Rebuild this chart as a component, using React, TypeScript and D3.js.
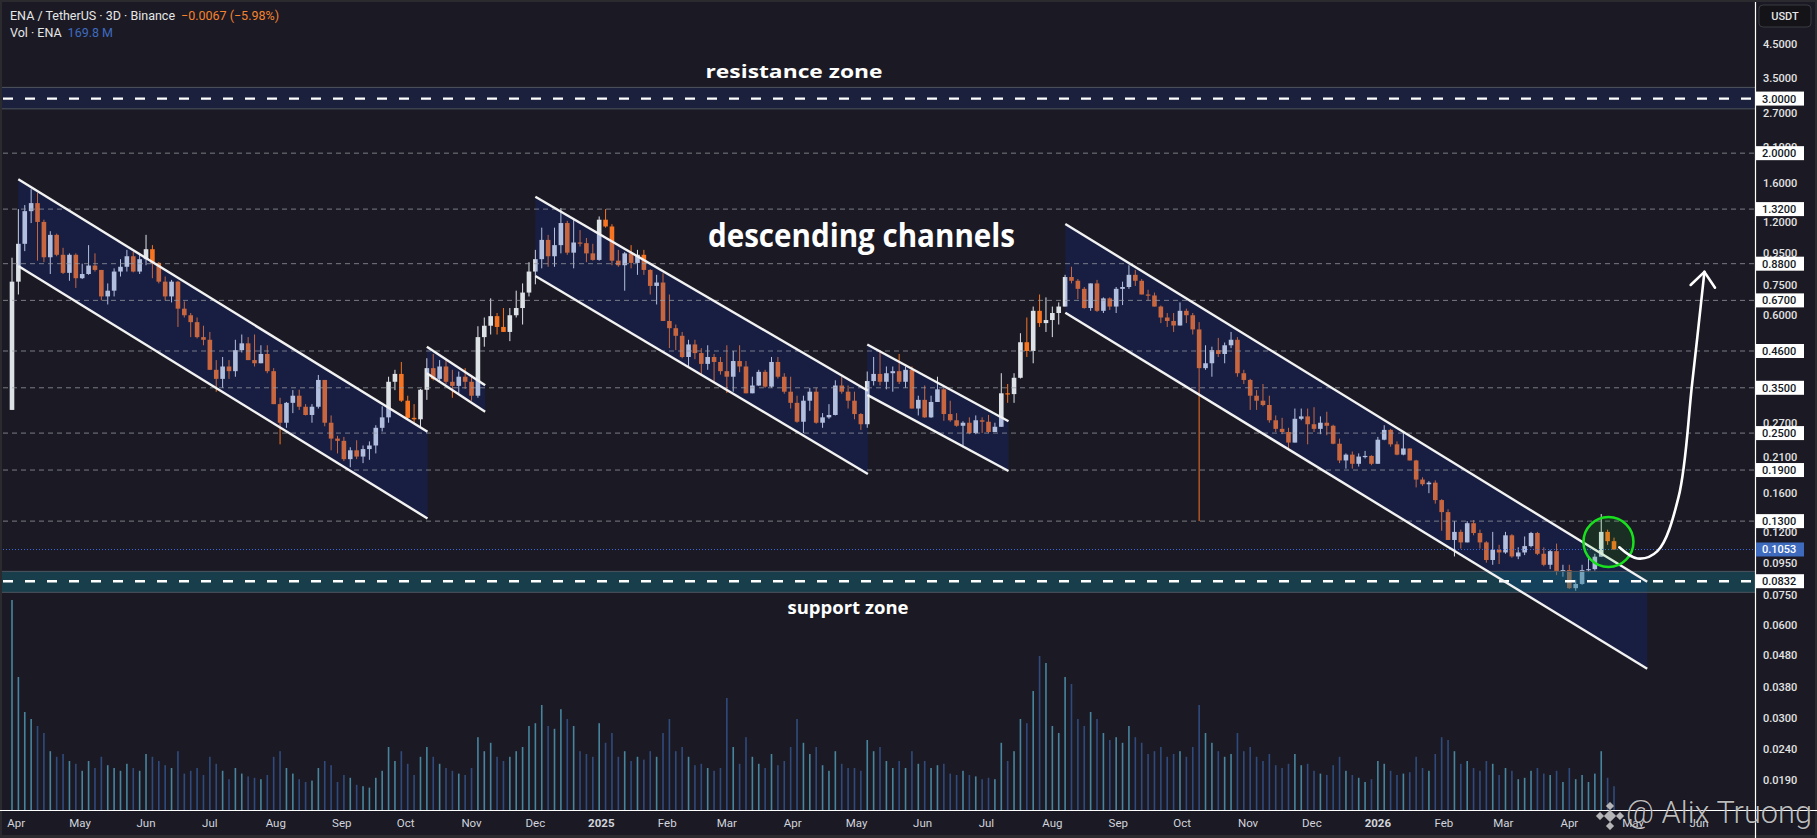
import React from 'react';
import * as d3 from 'd3';

const W = 1817;
const H = 838;
const START_UTC = Date.UTC(2024, 2, 30);
const DAY_MS = 86400000;
const BAR_DAYS = 3;
const FIRST_OPEN = 0.297;

const closes = [
  0.77, 1.02, 1.30, 1.38, 1.20, 0.923, 1.09, 0.94, 0.822, 0.94,
  0.79, 0.815, 0.868, 0.84, 0.69, 0.72, 0.83, 0.86, 0.93, 0.83,
  0.91, 0.98, 0.885, 0.77, 0.69, 0.77, 0.63, 0.60, 0.57, 0.51,
  0.50, 0.40, 0.374, 0.41, 0.396, 0.463, 0.487, 0.43, 0.42, 0.45,
  0.396, 0.31, 0.27, 0.313, 0.33, 0.304, 0.286, 0.304, 0.371, 0.27,
  0.24, 0.236, 0.206, 0.22, 0.21, 0.222, 0.228, 0.26, 0.281, 0.366,
  0.388, 0.318, 0.28, 0.277, 0.345, 0.405, 0.374, 0.41, 0.366, 0.355,
  0.38, 0.366, 0.33, 0.51, 0.555, 0.596, 0.55, 0.53, 0.60, 0.633,
  0.71, 0.83, 0.91, 1.05, 0.93, 1.01, 1.19, 0.955, 1.03, 1.025,
  0.95, 0.905, 1.22, 1.16, 0.90, 0.87, 0.95, 0.885, 0.94, 0.84,
  0.746, 0.765, 0.575, 0.545, 0.515, 0.44, 0.483, 0.453, 0.418, 0.44,
  0.424, 0.396, 0.38, 0.427, 0.41, 0.336, 0.356, 0.394, 0.353, 0.424,
  0.38, 0.34, 0.313, 0.272, 0.318, 0.34, 0.27, 0.281, 0.286, 0.356,
  0.34, 0.318, 0.288, 0.267, 0.368, 0.388, 0.366, 0.39, 0.396, 0.366,
  0.40, 0.30, 0.32, 0.281, 0.315, 0.346, 0.288, 0.275, 0.264, 0.27,
  0.25, 0.275, 0.272, 0.252, 0.262, 0.336, 0.334, 0.377, 0.491, 0.46,
  0.62, 0.566, 0.579, 0.61, 0.64, 0.797, 0.775, 0.73, 0.633, 0.76,
  0.62, 0.68, 0.64, 0.73, 0.74, 0.81, 0.775, 0.70, 0.695, 0.64,
  0.59, 0.575, 0.556, 0.62, 0.60, 0.54, 0.405, 0.42, 0.463, 0.45,
  0.48, 0.50, 0.39, 0.371, 0.33, 0.318, 0.308, 0.275, 0.258, 0.252,
  0.233, 0.278, 0.283, 0.267, 0.258, 0.27, 0.264, 0.231, 0.204, 0.213,
  0.199, 0.21, 0.211, 0.199, 0.238, 0.256, 0.23, 0.213, 0.223, 0.204,
  0.177, 0.171, 0.173, 0.152, 0.139, 0.113, 0.12, 0.111, 0.128, 0.119,
  0.111, 0.0974, 0.105, 0.103, 0.117, 0.10, 0.103, 0.108, 0.119, 0.102,
  0.094, 0.104, 0.0896, 0.0904, 0.079, 0.0815, 0.0904, 0.091, 0.0998, 0.12,
  0.112, 0.1053,
];

const highs = [
  0.92, 1.32, 1.36, 1.53, 1.49, 1.22, 1.12, 1.10, 0.99, 0.95,
  0.95, 0.88, 1.01, 0.95, 0.84, 0.76, 0.85, 0.91, 0.975, 0.96,
  0.94, 1.09, 1.01, 0.89, 0.80, 0.78, 0.775, 0.665, 0.61, 0.59,
  0.555, 0.53, 0.43, 0.44, 0.43, 0.50, 0.52, 0.51, 0.52, 0.48,
  0.48, 0.405, 0.325, 0.315, 0.344, 0.345, 0.31, 0.31, 0.385, 0.371,
  0.285, 0.245, 0.243, 0.225, 0.237, 0.228, 0.235, 0.265, 0.305, 0.38,
  0.40, 0.424, 0.33, 0.31, 0.347, 0.436, 0.45, 0.43, 0.43, 0.40,
  0.395, 0.405, 0.385, 0.553, 0.59, 0.68, 0.61, 0.633, 0.633, 0.72,
  0.76, 0.89, 0.975, 1.15, 1.09, 1.15, 1.33, 1.21, 1.23, 1.13,
  1.065, 1.02, 1.25, 1.32, 1.18, 0.975, 0.96, 1.01, 0.975, 0.975,
  0.845, 0.81, 0.82, 0.70, 0.56, 0.53, 0.50, 0.50, 0.47, 0.48,
  0.45, 0.44, 0.48, 0.46, 0.48, 0.427, 0.38, 0.40, 0.40, 0.44,
  0.44, 0.39, 0.38, 0.33, 0.33, 0.35, 0.35, 0.29, 0.31, 0.37,
  0.38, 0.356, 0.34, 0.29, 0.395, 0.44, 0.463, 0.41, 0.41, 0.45,
  0.41, 0.41, 0.33, 0.356, 0.33, 0.38, 0.35, 0.318, 0.29, 0.273,
  0.281, 0.285, 0.281, 0.286, 0.27, 0.39, 0.36, 0.39, 0.525, 0.59,
  0.64, 0.70, 0.685, 0.64, 0.66, 0.81, 0.86, 0.785, 0.74, 0.76,
  0.78, 0.685, 0.685, 0.74, 0.77, 0.87, 0.84, 0.785, 0.725, 0.71,
  0.645, 0.61, 0.61, 0.66, 0.63, 0.61, 0.57, 0.48, 0.475, 0.507,
  0.49, 0.53, 0.51, 0.40, 0.374, 0.344, 0.36, 0.33, 0.285, 0.28,
  0.26, 0.30, 0.30, 0.30, 0.303, 0.283, 0.293, 0.266, 0.24, 0.215,
  0.218, 0.215, 0.219, 0.212, 0.243, 0.265, 0.258, 0.235, 0.252, 0.223,
  0.205, 0.18, 0.175, 0.176, 0.153, 0.142, 0.13, 0.122, 0.13, 0.131,
  0.122, 0.112, 0.12, 0.109, 0.12, 0.118, 0.107, 0.116, 0.12, 0.12,
  0.107, 0.105, 0.11, 0.094, 0.094, 0.084, 0.094, 0.099, 0.102, 0.137,
  0.122, 0.115,
];

const lows = [
  0.297, 0.70, 0.966, 1.19, 0.90, 0.89, 0.815, 0.93, 0.815, 0.775,
  0.735, 0.785, 0.81, 0.83, 0.67, 0.65, 0.69, 0.80, 0.83, 0.825,
  0.815, 0.87, 0.79, 0.76, 0.67, 0.66, 0.55, 0.59, 0.51, 0.505,
  0.48, 0.40, 0.34, 0.35, 0.374, 0.38, 0.455, 0.43, 0.41, 0.42,
  0.39, 0.31, 0.23, 0.26, 0.29, 0.297, 0.285, 0.27, 0.30, 0.263,
  0.22, 0.215, 0.203, 0.194, 0.206, 0.20, 0.205, 0.215, 0.253, 0.27,
  0.344, 0.315, 0.275, 0.27, 0.26, 0.32, 0.37, 0.365, 0.36, 0.325,
  0.336, 0.347, 0.318, 0.325, 0.475, 0.52, 0.52, 0.53, 0.495, 0.59,
  0.56, 0.69, 0.755, 0.85, 0.86, 0.86, 0.95, 0.94, 0.85, 1.0,
  0.89, 0.90, 0.90, 1.15, 0.87, 0.86, 0.72, 0.85, 0.81, 0.81,
  0.70, 0.65, 0.575, 0.47, 0.463, 0.436, 0.41, 0.433, 0.387, 0.40,
  0.366, 0.386, 0.337, 0.34, 0.393, 0.336, 0.336, 0.355, 0.35, 0.35,
  0.375, 0.335, 0.30, 0.27, 0.25, 0.295, 0.268, 0.26, 0.278, 0.285,
  0.335, 0.30, 0.277, 0.256, 0.26, 0.356, 0.356, 0.346, 0.34, 0.36,
  0.35, 0.30, 0.285, 0.28, 0.28, 0.315, 0.274, 0.272, 0.262, 0.225,
  0.248, 0.248, 0.25, 0.25, 0.252, 0.262, 0.313, 0.313, 0.375, 0.44,
  0.42, 0.55, 0.53, 0.51, 0.56, 0.64, 0.76, 0.676, 0.63, 0.62,
  0.615, 0.61, 0.624, 0.61, 0.647, 0.73, 0.746, 0.70, 0.67, 0.64,
  0.566, 0.55, 0.53, 0.556, 0.566, 0.52, 0.13, 0.40, 0.38, 0.44,
  0.42, 0.47, 0.38, 0.36, 0.297, 0.297, 0.305, 0.27, 0.252, 0.248,
  0.22, 0.233, 0.275, 0.23, 0.252, 0.248, 0.246, 0.23, 0.20, 0.192,
  0.192, 0.195, 0.207, 0.197, 0.199, 0.237, 0.226, 0.212, 0.212, 0.204,
  0.167, 0.169, 0.16, 0.148, 0.121, 0.113, 0.10, 0.106, 0.111, 0.117,
  0.106, 0.0955, 0.094, 0.0945, 0.102, 0.099, 0.098, 0.101, 0.107, 0.101,
  0.093, 0.091, 0.087, 0.086, 0.0785, 0.0775, 0.081, 0.089, 0.09, 0.0998,
  0.109, 0.105,
];

const volumesM = [
  1500, 950, 700, 650, 600, 550, 420, 380, 400, 350,
  330, 280, 350, 300, 380, 320, 300, 280, 330, 300,
  280, 400, 380, 350, 320, 300, 420, 260, 280, 300,
  250, 380, 330, 280, 220, 300, 260, 240, 230, 220,
  250, 380, 420, 300, 260, 220, 200, 210, 300, 350,
  320, 200, 250, 230, 180, 170, 160, 230, 280, 450,
  350, 420, 330, 250, 380, 450, 380, 330, 300, 280,
  260, 250, 300, 520, 420, 480, 380, 350, 380, 420,
  450, 600, 620, 750, 600, 580, 720, 650, 600, 420,
  400, 380, 620, 480, 550, 380, 420, 350, 380, 360,
  420, 380, 550, 650, 420, 450, 380, 320, 330, 300,
  280, 300, 800, 450, 330, 520, 380, 330, 300, 400,
  320, 350, 450, 650, 480, 400, 450, 320, 280, 420,
  330, 300, 300, 280, 500, 420, 450, 350, 300, 350,
  300, 420, 330, 350, 300, 320, 330, 260, 250, 280,
  250, 240, 220, 230, 220, 480, 350, 420, 650, 620,
  850, 1100, 1050, 600, 550, 950, 900, 650, 600, 700,
  650, 550, 500, 520, 480, 600, 520, 480, 400, 420,
  450, 380, 400, 420, 380, 450, 750, 550, 480, 420,
  380, 400, 550, 420, 450, 380, 350, 400, 320, 300,
  330, 400, 320, 330, 280, 260, 250, 320, 380, 280,
  250, 230, 200, 220, 350, 330, 280, 250, 260, 270,
  380, 300, 280, 400, 520, 500, 420, 330, 350, 300,
  280, 350, 330, 250, 300, 280, 220, 230, 280, 300,
  260, 250, 280, 200, 300, 220, 250, 200, 260, 420,
  230, 170,
];

const levelLines = [2.0, 1.32, 0.88, 0.67, 0.46, 0.35, 0.25, 0.19, 0.13];
const priceTicks = [4.5, 3.5, 2.7, 2.1, 1.6, 1.2, 0.95, 0.75, 0.6, 0.27, 0.21, 0.16, 0.12, 0.095, 0.075, 0.06, 0.048, 0.038, 0.03, 0.024, 0.019];
const resistanceZone = [2.78, 3.26];
const resistanceLevel = 3.0;
const supportZone = [0.0766, 0.0895];
const supportLevel = 0.0832;
const lastPrice = 0.1053;

const timeTickLabels = ['Apr', 'May', 'Jun', 'Jul', 'Aug', 'Sep', 'Oct', 'Nov', 'Dec', '2025', 'Feb', 'Mar', 'Apr', 'May', 'Jun', 'Jul', 'Aug', 'Sep', 'Oct', 'Nov', 'Dec', '2026', 'Feb', 'Mar', 'Apr', 'May', 'Jun'];
const firstTickMonth = Date.UTC(2024, 3, 1);

// channels: start/end day offsets from START, top & bottom prices at each end
const channelDays = [[2.96, 195.3], [195.0, 222.4], [246, 402.3], [402, 468.4], [495.1, 768.6]];
const channelTop = [[1.647, 0.2525], [0.475, 0.357], [1.447, 0.3424], [0.483, 0.273], [1.182, 0.0828]];
const channelBottom = [[0.865, 0.1326], [0.39, 0.293], [0.803, 0.1845], [0.332, 0.1886], [0.611, 0.0434]];

const arrowDays = [755.5, 764, 773.4, 783.3, 789.8, 795.5];
const arrowPrices = [0.107, 0.0985, 0.104, 0.155, 0.365, 0.828];
const breakoutCircle = { day: 750.4, price: 0.1113 };

const PLOT_RIGHT = 1755;
const AXIS_Y = 810;

const fmt4 = (v: number) => v.toFixed(4);

export default function App() {
  const x = d3.scaleUtc()
    .domain([new Date(START_UTC), new Date(START_UTC + 753 * DAY_MS)])
    .range([12, 1614]);
  const y = d3.scaleLog().domain([0.019, 4.5]).range([780, 44]);
  const vy = d3.scaleLinear().domain([0, 1500]).range([AXIS_Y, AXIS_Y - 210]);
  const dx = (d: number) => x(new Date(START_UTC + d * DAY_MS));

  const candles = closes.map((c, i) => {
    const o = i === 0 ? FIRST_OPEN : closes[i - 1];
    const h = Math.max(highs[i], o, c);
    const l = Math.min(lows[i], o, c);
    const t = new Date(START_UTC + i * BAR_DAYS * DAY_MS);
    return { o, c, h, l, t, v: volumesM[i], up: c >= o };
  });

  const upCol = '#dde2e6';
  const downCol = '#f77420';
  const bodyW = 4.6;

  const channelPolys = channelDays.map((dd, k) => {
    const x0 = dx(dd[0]);
    const x1 = dx(dd[1]);
    return {
      poly: [[x0, y(channelTop[k][0])], [x1, y(channelTop[k][1])], [x1, y(channelBottom[k][1])], [x0, y(channelBottom[k][0])]],
      top: [[x0, y(channelTop[k][0])], [x1, y(channelTop[k][1])]],
      bot: [[x0, y(channelBottom[k][0])], [x1, y(channelBottom[k][1])]],
    };
  });

  const arrowPts: [number, number][] = arrowDays.map((d, i) => [dx(d), y(arrowPrices[i])]);
  const arrowPath = d3.line().curve(d3.curveCatmullRom.alpha(0.5))(arrowPts) || '';
  const tip = arrowPts[arrowPts.length - 1];
  const prev = arrowPts[arrowPts.length - 2];
  const ang = Math.atan2(tip[1] - prev[1], tip[0] - prev[0]);
  const wingLen = 19;
  const wingA = 0.7;
  const w1 = [tip[0] - wingLen * Math.cos(ang - wingA), tip[1] - wingLen * Math.sin(ang - wingA)];
  const w2 = [tip[0] - wingLen * Math.cos(ang + wingA), tip[1] - wingLen * Math.sin(ang + wingA)];

  const monthDates = timeTickLabels.map((_, i) => d3.utcMonth.offset(new Date(firstTickMonth), i));

  const ptsStr = (p: number[][]) => p.map((q) => q.join(',')).join(' ');

  const cx = dx(breakoutCircle.day);
  const cy = y(breakoutCircle.price);

  const logoCx = 1610;
  const logoCy = 816;

  return (
    <svg width={W} height={H} style={{ position: 'absolute', left: 0, top: 0 }} xmlns="http://www.w3.org/2000/svg">
      <rect x={0} y={0} width={W} height={H} fill="#2b2b2f" />
      <rect x={2} y={2} width={W - 4} height={H - 5} fill="#1b1a24" />

      {/* volume */}
      <g>
        {candles.map((d, i) => (
          <rect key={'v' + i} x={x(d.t) - 0.8} y={vy(d.v)} width={1.6} height={AXIS_Y - vy(d.v)}
            fill={d.up ? '#4f98b3' : '#33548c'} opacity={0.85} />
        ))}
      </g>

      {/* candles */}
      <g>
        {candles.map((d, i) => {
          const cxx = x(d.t);
          const col = d.up ? upCol : downCol;
          const yt = y(Math.max(d.o, d.c));
          const yb = y(Math.min(d.o, d.c));
          return (
            <g key={'c' + i}>
              <line x1={cxx} x2={cxx} y1={y(d.h)} y2={y(d.l)} stroke={col} strokeWidth={1} />
              <rect x={cxx - bodyW / 2} y={yt} width={bodyW} height={Math.max(1.2, yb - yt)} fill={col} />
            </g>
          );
        })}
      </g>

      {/* channel fills */}
      {channelPolys.map((c, k) => (
        <polygon key={'cf' + k} points={ptsStr(c.poly)} fill="rgb(10,50,190)" fillOpacity={0.2} />
      ))}

      {/* resistance zone */}
      <rect x={2} y={y(resistanceZone[1])} width={PLOT_RIGHT - 2} height={y(resistanceZone[0]) - y(resistanceZone[1])}
        fill="rgb(30,50,115)" fillOpacity={0.3} />
      <line x1={2} x2={PLOT_RIGHT} y1={y(resistanceZone[1])} y2={y(resistanceZone[1])} stroke="#50545e" strokeWidth={1} />
      <line x1={2} x2={PLOT_RIGHT} y1={y(resistanceZone[0])} y2={y(resistanceZone[0])} stroke="#50545e" strokeWidth={1} />

      {/* support zone */}
      <rect x={2} y={y(supportZone[1])} width={PLOT_RIGHT - 2} height={y(supportZone[0]) - y(supportZone[1])}
        fill="rgb(17,118,133)" fillOpacity={0.4} />
      <line x1={2} x2={PLOT_RIGHT} y1={y(supportZone[1])} y2={y(supportZone[1])} stroke="#4e5560" strokeWidth={1} />
      <line x1={2} x2={PLOT_RIGHT} y1={y(supportZone[0])} y2={y(supportZone[0])} stroke="#4e5560" strokeWidth={1} />

      {/* level dashed lines */}
      {levelLines.map((p, i) => (
        <line key={'l' + i} x1={3} x2={PLOT_RIGHT} y1={y(p)} y2={y(p)} stroke="#9a9ca3" strokeOpacity={0.75}
          strokeWidth={1} strokeDasharray="5 4" />
      ))}

      {/* last price dotted */}
      <line x1={3} x2={PLOT_RIGHT} y1={y(lastPrice)} y2={y(lastPrice)} stroke="#3f6ad8" strokeWidth={1} strokeDasharray="1 2" />

      {/* zone center dashed lines */}
      <line x1={3} x2={PLOT_RIGHT} y1={y(resistanceLevel)} y2={y(resistanceLevel)} stroke="#ffffff" strokeWidth={2.4} strokeDasharray="10 12" />
      <line x1={3} x2={PLOT_RIGHT} y1={y(supportLevel)} y2={y(supportLevel)} stroke="#ffffff" strokeWidth={2.4} strokeDasharray="10 12" />

      {/* channel borders */}
      {channelPolys.map((c, k) => (
        <g key={'cb' + k}>
          <line x1={c.top[0][0]} y1={c.top[0][1]} x2={c.top[1][0]} y2={c.top[1][1]} stroke="#f2f2f2" strokeWidth={2.4} />
          <line x1={c.bot[0][0]} y1={c.bot[0][1]} x2={c.bot[1][0]} y2={c.bot[1][1]} stroke="#f2f2f2" strokeWidth={2.4} />
        </g>
      ))}

      {/* breakout circle */}
      <circle cx={cx} cy={cy} r={25} fill="rgb(30,200,30)" fillOpacity={0.12} stroke="#19e01f" strokeWidth={2.5} />

      {/* arrow */}
      <path d={arrowPath} fill="none" stroke="#ffffff" strokeWidth={2.6} strokeLinecap="round" />
      <polyline points={ptsStr([w1, tip, w2])} fill="none" stroke="#ffffff" strokeWidth={2.6} strokeLinecap="round" strokeLinejoin="round" />

      {/* annotations */}
      <text x={794} y={78} fill="#ffffff" fontFamily="'Open Sans', sans-serif" fontWeight={700} fontSize={17}
        textAnchor="middle" textLength={177} lengthAdjust="spacingAndGlyphs">resistance zone</text>
      <text x={848} y={614} fill="#ffffff" fontFamily="'Open Sans', sans-serif" fontWeight={700} fontSize={17}
        textAnchor="middle" textLength={121} lengthAdjust="spacingAndGlyphs">support zone</text>
      <text x={708} y={247} fill="#ffffff" fontFamily="'Open Sans', sans-serif" fontWeight={700} fontSize={32}
        textLength={307} lengthAdjust="spacingAndGlyphs">descending channels</text>

      {/* axes lines */}
      <line x1={0} x2={W} y1={AXIS_Y + 0.5} y2={AXIS_Y + 0.5} stroke="#ffffff" strokeWidth={1.2} />
      <line x1={PLOT_RIGHT + 0.5} x2={PLOT_RIGHT + 0.5} y1={2} y2={H} stroke="#ffffff" strokeWidth={1.2} />

      {/* time labels */}
      {timeTickLabels.map((lab, i) => (
        <text key={'t' + i} x={x(monthDates[i])} y={827} fill="#d1d4dc" fontFamily="Roboto, sans-serif"
          fontSize={11.5} fontWeight={lab.length === 4 ? 700 : 400} textAnchor="middle">{lab}</text>
      ))}

      {/* price ticks */}
      {priceTicks.map((p, i) => (
        <text key={'p' + i} x={1763} y={y(p)} dy="0.36em" fill="#e3e3e3" fontFamily="Roboto, sans-serif"
          fontSize={11} fontWeight={500}>{fmt4(p)}</text>
      ))}

      {/* level boxes */}
      {[resistanceLevel, ...levelLines, supportLevel].map((p, i) => (
        <g key={'b' + i}>
          <rect x={PLOT_RIGHT + 1} y={y(p) - 7} width={48} height={14} fill="#ffffff" />
          <text x={1762} y={y(p)} dy="0.36em" fill="#131722" fontFamily="Roboto, sans-serif" fontSize={11} fontWeight={500}>{fmt4(p)}</text>
        </g>
      ))}
      <rect x={PLOT_RIGHT + 1} y={y(lastPrice) - 7} width={48} height={14} fill="#3f6bbf" />
      <text x={1762} y={y(lastPrice)} dy="0.36em" fill="#ffffff" fontFamily="Roboto, sans-serif" fontSize={11} fontWeight={500}>{fmt4(lastPrice)}</text>

      {/* USDT button */}
      <rect x={1759} y={5} width={52} height={22} rx={4} fill="#131318" stroke="#3a3a42" strokeWidth={1} />
      <text x={1785} y={16} dy="0.36em" fill="#e6e6e6" fontFamily="Roboto, sans-serif" fontSize={11} fontWeight={500} textAnchor="middle">USDT</text>

      {/* header */}
      <text x={10} y={19.5} fill="#e6e6e6" fontFamily="Roboto, sans-serif" fontSize={12.5}>
        ENA / TetherUS · 3D · Binance
        <tspan fill="#f5822e" dx={6}>−0.0067 (−5.98%)</tspan>
      </text>
      <text x={10} y={37} fill="#e6e6e6" fontFamily="Roboto, sans-serif" fontSize={12.5}>
        Vol · ENA
        <tspan fill="#3e6bc0" dx={6}>169.8 M</tspan>
      </text>

      {/* watermark */}
      <g opacity={0.85} fill="#d0d0d0" stroke="#000" strokeOpacity={0.3} strokeWidth={0.6}>
        <rect x={logoCx - 4.5} y={logoCy - 4.5} width={9} height={9} transform={`rotate(45 ${logoCx} ${logoCy})`} />
        <rect x={logoCx - 3} y={logoCy - 13} width={6} height={6} transform={`rotate(45 ${logoCx} ${logoCy - 10})`} />
        <rect x={logoCx - 3} y={logoCy + 7} width={6} height={6} transform={`rotate(45 ${logoCx} ${logoCy + 10})`} />
        <rect x={logoCx - 13} y={logoCy - 3} width={6} height={6} transform={`rotate(45 ${logoCx - 10} ${logoCy})`} />
        <rect x={logoCx + 7} y={logoCy - 3} width={6} height={6} transform={`rotate(45 ${logoCx + 10} ${logoCy})`} />
      </g>
      <text x={1626} y={823} fill="#d4d4d4" fillOpacity={0.88} fontFamily="Roboto, sans-serif" fontWeight={300}
        fontSize={31} textLength={186} lengthAdjust="spacingAndGlyphs"
        stroke="#000" strokeOpacity={0.35} strokeWidth={1} style={{ paintOrder: 'stroke' }}>@ Alix Truong</text>
    </svg>
  );
}
